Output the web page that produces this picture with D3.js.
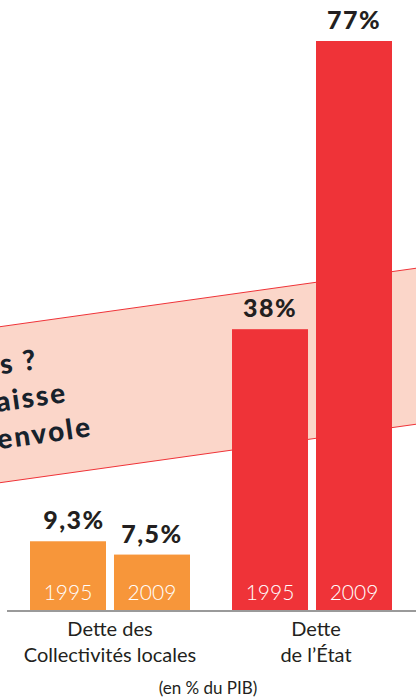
<!DOCTYPE html>
<html>
<head>
<meta charset="utf-8">
<script src="https://cdn.jsdelivr.net/npm/d3@7"></script>
<style>
  body { margin: 0; background: #fff; }
  svg { display: block; font-family: Lato, "Noto Sans", sans-serif; }
</style>
</head>
<body>
<div id="chart"></div>
<script>
// data
var groups = ["local", "etat"];
var groupLabels = [["Dette des", "Collectivités locales"], ["Dette", "de l’État"]];
var years = ["1995", "2009"];
var localDebt = [9.3, 7.5];
var stateDebt = [38, 77];
var valueLabels = [["9,3%", "7,5%"], ["38%", "77%"]];
var bandLines = ["s ?", "aisse", "envole"];

var colors = { local: "#f7963a", etat: "#ef3338" };

var width = 416, height = 699;

var svg = d3.select("#chart")
  .append("svg")
  .attr("width", width)
  .attr("height", height);

// scales
var x0 = d3.scaleBand()
  .domain(groups)
  .range([30, 392])
  .paddingInner(0.208);

var x1 = d3.scaleBand()
  .domain(years)
  .range([0, x0.bandwidth()])
  .paddingInner(0.0952);

var y = d3.scaleLinear()
  .domain([0, 77])
  .range([610, 41]);

// pink slanted band behind the bars
var angle = -8;
var slope = Math.tan(angle * Math.PI / 180);
var bandTop = function(xx) { return 326.7 + slope * xx; };
var bandBottom = function(xx) { return 482.7 + slope * xx; };
svg.append("path")
  .attr("d", "M-5," + bandTop(-5) + "L421," + bandTop(421) +
    "L421," + bandBottom(421) + "L-5," + bandBottom(-5) + "Z")
  .attr("fill", "#fbd6c9")
  .attr("stroke", "#ef3338")
  .attr("stroke-width", 1);

// text cut off by the left edge, right ends as in the picture
var bandEnds = [[39, 369], [68, 402], [93, 436]];
svg.selectAll(".bandtxt")
  .data(bandLines)
  .enter().append("text")
  .attr("class", "bandtxt")
  .attr("transform", function(d, i) {
    return "translate(" + bandEnds[i][0] + "," + bandEnds[i][1] + ") rotate(" + angle + ")";
  })
  .attr("text-anchor", "end")
  .attr("font-size", 28)
  .attr("font-weight", 900)
  .attr("letter-spacing", 2)
  .attr("fill", "#17222c")
  .text(function(d) { return d; });

// bars
var rows = [];
groups.forEach(function(g, gi) {
  var vals = g === "local" ? localDebt : stateDebt;
  years.forEach(function(yr, yi) {
    rows.push({ group: g, year: yr, value: vals[yi], label: valueLabels[gi][yi] });
  });
});

var bar = svg.selectAll(".bar")
  .data(rows)
  .enter().append("g")
  .attr("class", "bar")
  .attr("transform", function(d) { return "translate(" + (x0(d.group) + x1(d.year)) + ",0)"; });

bar.append("rect")
  .attr("y", function(d) { return y(d.value); })
  .attr("width", x1.bandwidth())
  .attr("height", function(d) { return y(0) - y(d.value); })
  .attr("fill", function(d) { return colors[d.group]; });

bar.append("text")
  .attr("x", x1.bandwidth() / 2)
  .attr("y", y(0) - 10)
  .attr("text-anchor", "middle")
  .attr("font-size", 21)
  .attr("font-weight", 300)
  .attr("fill", "#fff")
  .text(function(d) { return d.year; });

bar.append("text")
  .attr("x", function(d) { return x1.bandwidth() / 2 + (d.label === "9,3%" ? 6 : 0); })
  .attr("y", function(d) { return y(d.value) - 12; })
  .attr("text-anchor", "middle")
  .attr("font-size", 25)
  .attr("font-weight", 900)
  .attr("letter-spacing", 1.5)
  .attr("fill", "#231f20")
  .text(function(d) { return d.label; });

// baseline
svg.append("line")
  .attr("x1", 7).attr("x2", 416)
  .attr("y1", y(0) + 1).attr("y2", y(0) + 1)
  .attr("stroke", "#9a9a9a")
  .attr("stroke-width", 2);

// category labels
var cat = svg.selectAll(".cat")
  .data(groups)
  .enter().append("text")
  .attr("class", "cat")
  .attr("text-anchor", "middle")
  .attr("font-size", 20)
  .attr("fill", "#231f20");

cat.selectAll("tspan")
  .data(function(d, i) { return groupLabels[i].map(function(t) { return { g: d, t: t }; }); })
  .enter().append("tspan")
  .attr("x", function(d) { return x0(d.g) + x0.bandwidth() / 2 + (d.g === "etat" ? 4 : 0); })
  .attr("y", function(d, i) { return 636 + i * 26; })
  .text(function(d) { return d.t; });

svg.append("text")
  .attr("x", 208)
  .attr("y", 694)
  .attr("text-anchor", "middle")
  .attr("font-size", 17)
  .attr("fill", "#231f20")
  .text("(en % du PIB)");
</script>
</body>
</html>
